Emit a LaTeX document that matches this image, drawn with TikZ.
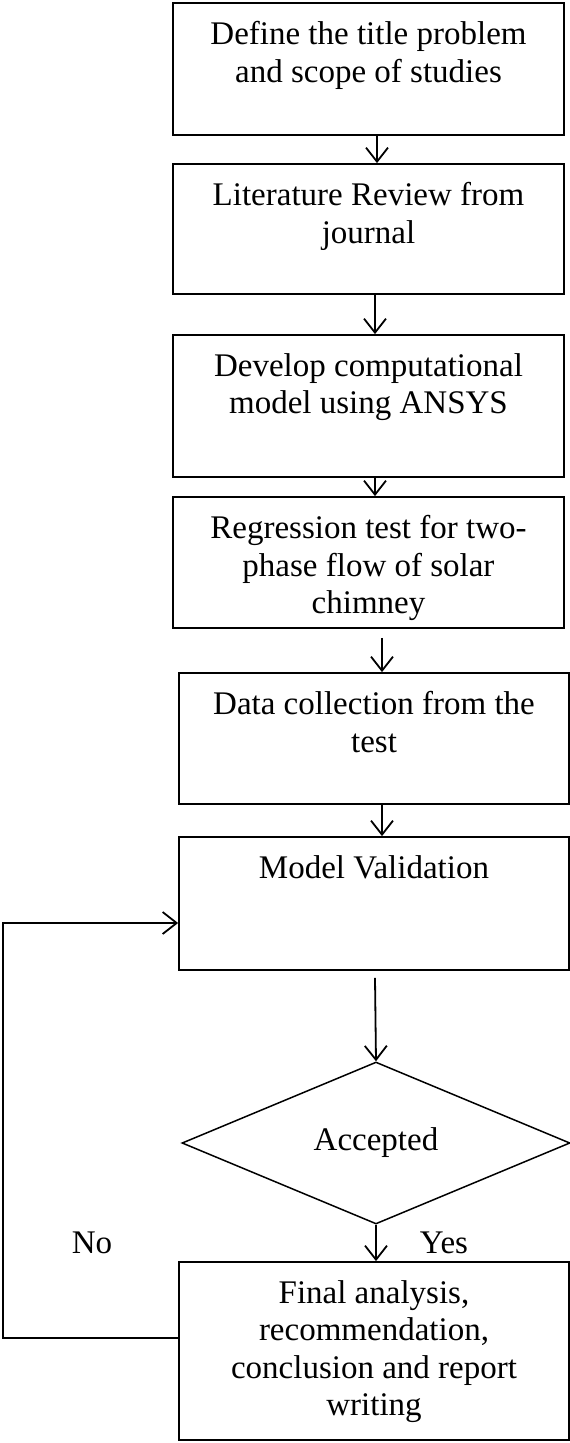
\documentclass[tikz,border=0pt]{standalone}
\usepackage{fontspec}
\setmainfont{Liberation Serif}
\usetikzlibrary{arrows.meta,shapes.geometric}

\begin{document}
\begin{tikzpicture}[x=1pt,y=-1pt,line width=1.8pt,
  >={Straight Barb[length=14pt,width=22pt]},
  font=\fontsize{33}{37.5}\selectfont,
  stepbox/.style={draw,inner sep=0pt,minimum width=391pt},
  steptext/.style={anchor=north,align=center,inner sep=0pt,yshift=-18.5pt}]
 \useasboundingbox (0,0) rectangle (570,1443);
 % boxes of the study, top to bottom
 \node[stepbox,minimum height=132pt] (b1) at (368.5,69) {};
 \node[steptext] (t1) at (b1.north) {Define the title problem\\and scope of studies};
 \node[stepbox,minimum height=130pt] (b2) at (368.5,229) {};
 \node[steptext] (t2) at (b2.north) {Literature Review from\\journal};
 \node[stepbox,minimum height=142pt] (b3) at (368.5,406) {};
 \node[steptext] (t3) at (b3.north) {Develop computational\\model using ANSYS};
 \node[stepbox,minimum height=131pt] (b4) at (368.5,562.5) {};
 \node[steptext] (t4) at (b4.north) {Regression test for two-\\phase flow of solar\\chimney};
 \node[stepbox,minimum height=131pt,minimum width=390pt] (b5) at (374,738.5) {};
 \node[steptext] (t5) at (b5.north) {Data collection from the\\test};
 \node[stepbox,minimum height=133pt,minimum width=390pt] (b6) at (374,903.5) {};
 \node[steptext] (t6) at (b6.north) {Model Validation};
 \node[draw,diamond,line width=1.5pt,inner sep=0pt,aspect=2.4,
   minimum width=388pt,minimum height=162pt] (acc) at (376,1143) {Accepted};
 \node[stepbox,minimum height=178pt,minimum width=390pt] (fin) at (374,1351) {};
 \node[steptext] (t7) at (fin.north) {Final analysis,\\recommendation,\\conclusion and report\\writing};
 \node (lno) at (92,1243) {No};
 \node (lyes) at (444,1243) {Yes};
 % arrows
 \draw[->] ([xshift=8.5pt]b1.south) -- ([xshift=8.5pt]b2.north);
 \draw[->] ([xshift=6.5pt]b2.south) -- ([xshift=6.5pt]b3.north);
 \draw[->] ([xshift=6.5pt]b3.south) -- ([xshift=6.5pt]b4.north);
 \draw[->] ([xshift=13.5pt,yshift=-9pt]b4.south) -- ([xshift=8pt]b5.north);
 \draw[->] ([xshift=8pt]b5.south) -- ([xshift=8pt]b6.north);
 \draw[->] ([xshift=1pt,yshift=-7pt]b6.south) -- (acc.north);
 \draw[->] (acc.south) -- (acc.south |- fin.north);
 \draw[->] ([yshift=13pt]fin.west) -- ++(-175,0) |- ([yshift=-19.5pt]b6.west);
\end{tikzpicture}
\end{document}
